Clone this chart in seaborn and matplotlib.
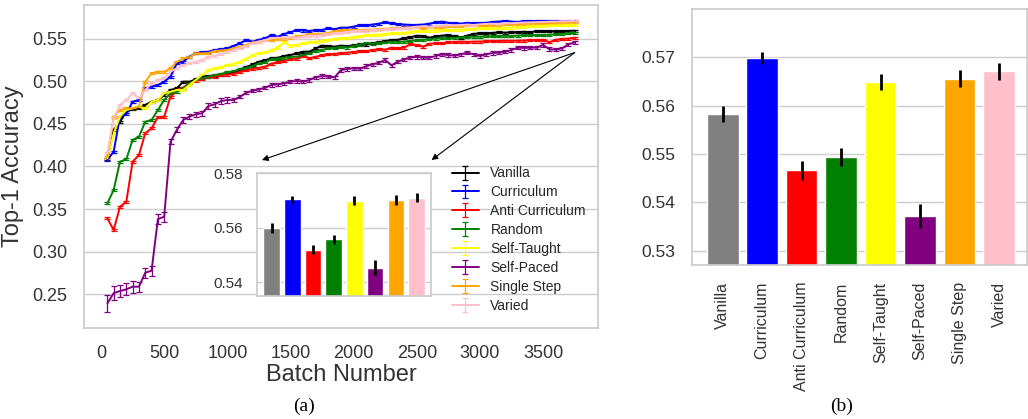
import numpy as np
import matplotlib
matplotlib.use("Agg")
import matplotlib.pyplot as plt
import seaborn as sns

sns.set_theme(style="whitegrid")
plt.rcParams['font.family'] = ['Liberation Sans', 'DejaVu Sans']

# ---------------- data ----------------
methods = ["Vanilla", "Curriculum", "Anti Curriculum", "Random",
           "Self-Taught", "Self-Paced", "Single Step", "Varied"]
line_colors = ["black", "blue", "red", "green", "yellow", "purple", "orange", "pink"]
bar_colors = ["gray", "blue", "red", "green", "yellow", "purple", "orange", "pink"]

batches = list(range(50, 3800, 50))

vanilla = [.409, .443, .4527, .4645, .4673, .4684, .4724, .4763, .4782, .4841,
           .490, .492, .4998, .4998, .5025, .5057, .5065, .5069, .508, .5096,
           .511, .514, .517, .520, .5233, .525, .5273, .528, .530, .5312,
           .533, .535, .5351, .539, .5422, .5415, .541, .5422, .5415, .5425,
           .5437, .5435, .545, .546, .5475, .5488, .549, .551, .552, .5539,
           .5535, .5516, .553, .554, .5545, .553, .5516, .554, .556, .5567,
           .5565, .5572, .5578, .5575, .5578, .558, .5585, .5578, .5594, .559,
           .5594, .559, .5592, .5595, .5598]
curriculum = [.4076, .4175, .4586, .4618, .4763, .4782, .492, .4939, .4959, .4998,
              .5057, .5214, .5233, .5292, .5331, .5343, .535, .537, .538, .539,
              .542, .545, .549, .5469, .549, .5508, .5547, .5527, .556, .5578,
              .5606, .560, .5594, .5605, .5606, .5625, .5615, .5633, .5633, .5645,
              .5665, .566, .567, .568, .5696, .5684, .5675, .567, .5665, .5665,
              .567, .568, .5695, .5704, .569, .5684, .568, .569, .5685, .5684,
              .569, .570, .5705, .5712, .5705, .570, .571, .5712, .5708, .571,
              .5712, .571, .5705, .571, .5712]
anti_curriculum = [.339, .3253, .3527, .3586, .4057, .4135, .4391, .4449, .4579, .4586,
                   .4821, .490, .4927, .4979, .5006, .5026, .505, .5057, .5076, .5082,
                   .509, .5115, .513, .515, .516, .5175, .521, .5225, .524, .526,
                   .527, .5304, .5273, .529, .531, .532, .5325, .5331, .534, .5345,
                   .5359, .5355, .537, .538, .5375, .5398, .539, .540, .5437, .543,
                   .541, .5445, .5449, .545, .546, .5462, .5469, .5465, .5469, .547,
                   .5472, .5476, .5476, .548, .5478, .548, .5482, .549, .5485, .549,
                   .5461, .549, .550, .5505, .5516]
random_order = [.3567, .3724, .4057, .4085, .4312, .435, .4527, .4547, .4665, .4782,
                .4861, .488, .492, .4978, .5018, .5037, .5057, .5076, .509, .5108,
                .512, .5147, .516, .518, .5214, .5225, .5265, .527, .528, .529,
                .5292, .531, .533, .5359, .537, .539, .5395, .541, .540, .542,
                .5435, .545, .5445, .5455, .546, .5469, .5465, .547, .5475, .5488,
                .549, .550, .5505, .5516, .551, .5516, .552, .5525, .5527, .5527,
                .553, .553, .5535, .5539, .5535, .554, .5545, .5547, .5545, .5547,
                .555, .5555, .556, .5565, .5567]
self_taught = [.4096, .439, .4586, .4665, .4684, .4704, .4684, .4763, .4782, .4861,
               .488, .490, .490, .4959, .5018, .5076, .5135, .5155, .517, .5194,
               .521, .5233, .527, .5312, .533, .5343, .537, .540, .5461, .5422,
               .543, .545, .546, .5469, .548, .549, .550, .5508, .551, .5525,
               .553, .5547, .5548, .555, .5555, .5567, .5565, .557, .558, .5594,
               .5594, .5598, .560, .5606, .5606, .561, .561, .5615, .562, .5625,
               .5625, .5628, .563, .5633, .5635, .564, .5645, .565, .5655, .5657,
               .566, .566, .5662, .5665, .5667]
self_paced = [.239, .251, .2535, .2555, .2586, .2586, .275, .2774, .338, .341,
              .429, .443, .4547, .4586, .4614, .4626, .4712, .4732, .477, .4782,
              .478, .4821, .4868, .4892, .4908, .4927, .4959, .4967, .4979, .4998,
              .5006, .4998, .5018, .505, .5065, .5057, .505, .5135, .5147, .5155,
              .515, .518, .5202, .522, .5253, .519, .5233, .526, .5284, .529,
              .528, .528, .530, .532, .531, .5304, .532, .5339, .532, .530,
              .532, .5335, .534, .535, .537, .5398, .5395, .5398, .5398, .543,
              .538, .5375, .539, .5437, .546]
single_step = [.4116, .4586, .4665, .4684, .4684, .4704, .4998, .5096, .5116, .5116,
               .5155, .5233, .5273, .5284, .5331, .5331, .5335, .536, .5365, .537,
               .539, .541, .543, .5461, .547, .5488, .5488, .550, .5505, .5516,
               .553, .5539, .5555, .5555, .556, .557, .559, .5606, .560, .561,
               .5605, .561, .561, .5615, .562, .5625, .563, .5633, .5635, .5645,
               .5625, .564, .5645, .5645, .565, .565, .5655, .566, .5665, .5665,
               .566, .5668, .567, .5673, .5675, .5678, .568, .568, .5684, .5684,
               .5688, .569, .569, .5694, .5696]
varied = [.4155, .4567, .4724, .4782, .4861, .4802, .490, .4978, .5018, .5037,
          .5116, .5155, .5194, .5214, .5233, .5253, .5292, .5305, .532, .5351,
          .537, .5398, .542, .545, .547, .5488, .551, .5516, .5516, .552,
          .5516, .553, .5539, .554, .555, .556, .5567, .557, .5585, .5594,
          .5598, .560, .5605, .561, .5615, .562, .5625, .563, .5635, .5645,
          .5648, .5645, .565, .5655, .566, .566, .5665, .567, .5665, .5673,
          .5678, .568, .5675, .5684, .5685, .569, .5694, .5696, .5698, .570,
          .5704, .5705, .5706, .571, .5712]

self_paced_err = [.010, .008, .007, .007, .007, .006, .006, .006, .006, .006,
                  .003, .003, .003, .003, .003, .003, .003, .003, .003, .003,
                  .002, .002, .002, .002, .002, .002, .002, .002, .002, .002,
                  .002, .002, .002, .002, .002, .002, .002, .002, .002, .002,
                  .002, .002, .002, .002, .002, .002, .002, .002, .002, .002,
                  .002, .002, .002, .002, .002, .002, .002, .002, .002, .002,
                  .002, .002, .002, .002, .002, .002, .002, .002, .002, .002,
                  .002, .002, .002, .002, .002]
other_err = 0.0012

# inset (final accuracy, panel a)
inset_vals = [0.5600, 0.5705, 0.5520, 0.5558, 0.5700, 0.5454, 0.5703, 0.5710]
inset_errs = [0.0018, 0.0013, 0.0017, 0.0017, 0.0018, 0.0028, 0.0018, 0.0017]

# panel b
final_vals = [0.5583, 0.5699, 0.5466, 0.5493, 0.5649, 0.5372, 0.5656, 0.5671]
final_errs = [0.0017, 0.0013, 0.0019, 0.0019, 0.0017, 0.0025, 0.0018, 0.0017]

series = [vanilla, curriculum, anti_curriculum, random_order,
          self_taught, self_paced, single_step, varied]

# ---------------- figure ----------------
W, H = 1028, 419
fig = plt.figure(figsize=(W / 100, H / 100), dpi=100)

def frac(l, t, r, b):
    return [l / W, 1 - b / H, (r - l) / W, (b - t) / H]

ax = fig.add_axes(frac(84, 5, 598, 328))
for name, vals, col in zip(methods, series, line_colors):
    err = self_paced_err if name == "Self-Paced" else other_err
    ax.errorbar(batches, vals, yerr=err, color=col, lw=1.4, elinewidth=0.9,
                capsize=2.2, capthick=0.9, label=name)
ax.set_xlim(-135, 3935)
ax.set_ylim(0.21, 0.59)
ax.set_xticks([0, 500, 1000, 1500, 2000, 2500, 3000, 3500])
ax.set_yticks([0.25, 0.30, 0.35, 0.40, 0.45, 0.50, 0.55])
ax.grid(axis='x', visible=False)
ax.tick_params(labelsize=13, pad=6, colors='#333333')
ax.set_xlabel("Batch Number", fontsize=17, color='#333333', labelpad=2)
ax.set_ylabel("Top-1 Accuracy", fontsize=17, color='#333333', labelpad=6)

ax.legend(loc='center left', bbox_to_anchor=(0.715, 0.274), fontsize=10,
          frameon=False, borderpad=0, borderaxespad=0, labelspacing=0.35,
          handlelength=2.0, handletextpad=0.8)

for tx in (1274, 2617):
    ax.annotate('', xy=(tx, 0.4076), xytext=(3750, 0.534),
                arrowprops=dict(arrowstyle='-|>', color='black', lw=0.8,
                                mutation_scale=9, shrinkA=0, shrinkB=0))

# inset
axi = fig.add_axes(frac(257, 173.3, 431, 296))
sns.barplot(x=methods, y=inset_vals, hue=methods, palette=bar_colors,
            saturation=1, legend=False, ax=axi, width=0.8)
axi.errorbar(range(len(methods)), inset_vals, yerr=inset_errs, fmt='none',
             ecolor='black', elinewidth=2, capsize=0)
axi.set_ylim(0.535, 0.58)
axi.set_xlim(-0.7, 7.7)
axi.set_yticks([0.54, 0.56, 0.58])
axi.set_xticks([])
axi.grid(axis='x', visible=False)
axi.tick_params(labelsize=11, pad=4, colors='#333333')
axi.set_facecolor('white')

# panel b
axb = fig.add_axes(frac(692, 9, 1027, 265))
sns.barplot(x=methods, y=final_vals, hue=methods, palette=bar_colors,
            saturation=1, legend=False, ax=axb, width=0.8)
axb.errorbar(range(len(methods)), final_vals, yerr=final_errs, fmt='none',
             ecolor='black', elinewidth=2, capsize=0)
axb.set_ylim(0.527, 0.58)
axb.set_xlim(-0.78, 7.71)
axb.set_yticks([0.53, 0.54, 0.55, 0.56, 0.57])
axb.grid(axis='x', visible=False)
axb.tick_params(axis='y', labelsize=12.5, pad=6, colors='#333333')
axb.tick_params(axis='x', labelsize=11.5, pad=6, colors='#333333', rotation=90)
axb.set_xlabel("")
axb.set_ylabel("")

fig.text(303.7 / W, 1 - 406 / H, "(a)", family=['Liberation Serif', 'DejaVu Serif'],
         fontsize=14, ha='center', va='center', color='black')
fig.text(841.7 / W, 1 - 406 / H, "(b)", family=['Liberation Serif', 'DejaVu Serif'],
         fontsize=14, ha='center', va='center', color='black')

fig.savefig("out.png", dpi=100)
